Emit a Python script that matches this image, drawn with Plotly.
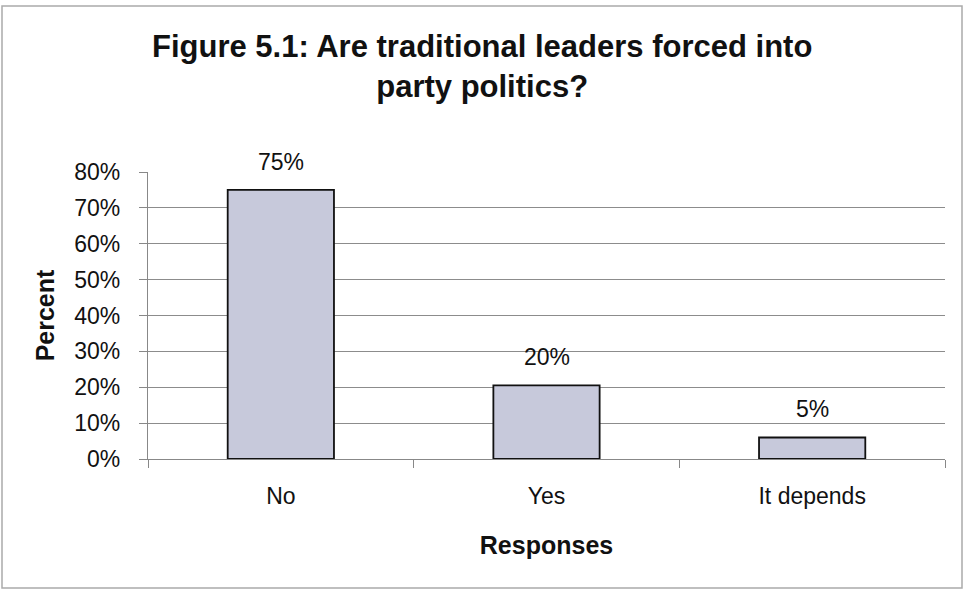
import plotly.graph_objects as go

categories = ["No", "Yes", "It depends"]
values = [75, 20.5, 6]
labels = ["75%", "20%", "5%"]
y_ticks = [0, 10, 20, 30, 40, 50, 60, 70, 80]
y_tick_text = [f"{v}%" for v in y_ticks]

W, H = 968, 592
L, R, T, B = 148, 23, 172, 133
pw, ph = W - L - R, H - T - B

def px_x(x):
    return (x - L) / pw

def px_y(y):
    return (H - B - y) / ph

FONT = "Liberation Sans, Arial, sans-serif"

fig = go.Figure(go.Bar(
    x=categories, y=values,
    marker=dict(color="#c7c9db", line=dict(color="#111111", width=1.8)),
    width=0.4, hoverinfo="skip",
))

for c, v, t in zip(categories, values, labels):
    fig.add_annotation(x=c, y=v, text=t, showarrow=False, yanchor="middle",
                       yshift=28, font=dict(family=FONT, size=23, color="#111111"))

fig.add_annotation(xref="paper", yref="paper", x=px_x(482), y=px_y(67),
                   text="<b>Figure 5.1: Are traditional leaders forced into<br>party politics?</b>",
                   showarrow=False, xanchor="center", yanchor="middle",
                   font=dict(family=FONT, size=31, color="#111111"))

fig.add_shape(type="rect", xref="paper", yref="paper",
              x0=px_x(2), x1=px_x(962), y0=px_y(588), y1=px_y(6),
              line=dict(color="#aaaaaa", width=1.5), layer="below")

fig.update_layout(
    width=W, height=H,
    margin=dict(l=L, r=R, t=T, b=B),
    paper_bgcolor="white", plot_bgcolor="white",
    showlegend=False,
    font=dict(family=FONT, size=23, color="#111111"),
    xaxis=dict(
        title=dict(text="<b>Responses</b>", font=dict(size=25), standoff=28),
        tickson="boundaries", ticks="outside", ticklen=8, tickcolor="#888888",
        showline=True, linecolor="#888888", linewidth=1.2,
        ticklabelstandoff=16, tickfont=dict(size=23),
    ),
    yaxis=dict(
        title=dict(text="<b>Percent</b>", font=dict(size=25), standoff=12),
        range=[0, 80], tickvals=y_ticks, ticktext=y_tick_text,
        ticks="outside", ticklen=8, tickcolor="#888888",
        showline=True, linecolor="#888888", linewidth=1.2,
        showgrid=True, gridcolor="#8c8c8c", gridwidth=1,
        zeroline=False, ticklabelstandoff=14, tickfont=dict(size=23),
    ),
)

fig.write_html("out.html")
